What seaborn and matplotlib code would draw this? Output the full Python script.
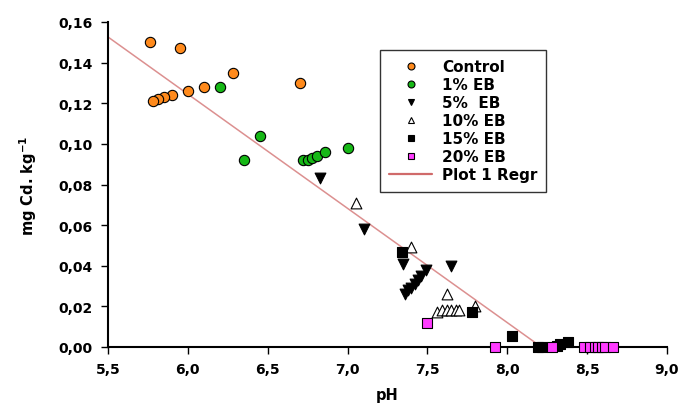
import numpy as np
import pandas as pd
import matplotlib
matplotlib.use("Agg")
import matplotlib.pyplot as plt
from matplotlib.ticker import FuncFormatter
from matplotlib.lines import Line2D
import seaborn as sns

# ---- data ----
control_x = [5.76, 5.95, 6.28, 6.70, 6.10, 6.00, 5.90, 5.85, 5.81, 5.78]
control_y = [0.150, 0.147, 0.135, 0.130, 0.128, 0.126, 0.124, 0.123, 0.122, 0.121]
eb1_x = [6.20, 6.45, 6.35, 6.72, 6.75, 6.78, 6.81, 6.86, 7.00]
eb1_y = [0.128, 0.104, 0.092, 0.092, 0.092, 0.093, 0.094, 0.096, 0.098]
eb5_x = [6.83, 7.10, 7.35, 7.49, 7.65, 7.36, 7.38, 7.40, 7.42, 7.44, 7.46]
eb5_y = [0.083, 0.058, 0.041, 0.038, 0.040, 0.026, 0.028, 0.029, 0.031, 0.033, 0.035]
eb10_x = [7.05, 7.40, 7.62, 7.80, 7.56, 7.59, 7.62, 7.65, 7.68, 7.70]
eb10_y = [0.071, 0.049, 0.026, 0.020, 0.017, 0.018, 0.018, 0.018, 0.018, 0.018]
eb15_x = [7.34, 7.78, 8.03, 8.19, 8.22, 8.31, 8.33, 8.38]
eb15_y = [0.047, 0.017, 0.0055, 0.0, 0.0, 0.0007, 0.0015, 0.0026]
eb20_x = [7.50, 7.92, 8.28, 8.48, 8.52, 8.55, 8.57, 8.59, 8.61, 8.66]
eb20_y = [0.012, 0.0, 0.0, 0.0, 0.0, 0.0, 0.0, 0.0, 0.0, 0.0]
groups = ["Control", "1% EB", "5%  EB", "10% EB", "15% EB", "20% EB"]

# regression line (Plot 1 Regr): y = intercept + slope * pH
regr_intercept = 0.462
regr_slope = -0.05625

x_ticks = [5.5, 6.0, 6.5, 7.0, 7.5, 8.0, 8.5, 9.0]
y_ticks = [0.00, 0.02, 0.04, 0.06, 0.08, 0.10, 0.12, 0.14, 0.16]

# ---- build table ----
xs = [control_x, eb1_x, eb5_x, eb10_x, eb15_x, eb20_x]
ys = [control_y, eb1_y, eb5_y, eb10_y, eb15_y, eb20_y]
df = pd.concat([pd.DataFrame({"pH": x, "Cd": y, "group": g}) for x, y, g in zip(xs, ys, groups)],
               ignore_index=True)

styles = {
    "Control": dict(marker="o", color="#ff8a1c", s=55),
    "1% EB": dict(marker="o", color="#16b816", s=55),
    "5%  EB": dict(marker="v", color="black", s=60),
    "10% EB": dict(marker="^", color="white", s=60),
    "15% EB": dict(marker="s", color="black", s=50),
    "20% EB": dict(marker="s", color="#ff3cff", s=50),
}

sns.set_style("ticks")
plt.rcParams["font.family"] = ["DejaVu Sans"]
plt.rcParams["font.weight"] = "bold"
plt.rcParams["text.color"] = "black"
plt.rcParams["axes.labelcolor"] = "black"
plt.rcParams["xtick.color"] = "black"
plt.rcParams["ytick.color"] = "black"

fig = plt.figure(figsize=(6.79, 4.06), dpi=100)
ax = fig.add_axes([108 / 679, 1 - 348 / 406, 559 / 679, 325 / 406])

# regression line across the axis range (until it reaches 0)
line_x = np.linspace(5.5, 9.0, 400)
line_y = regr_intercept + regr_slope * line_x
mask = line_y >= 0
sns.lineplot(x=line_x[mask], y=line_y[mask], ax=ax, color="#dc9090", lw=1.1, zorder=2)

handles = []
for g in groups:
    st = styles[g]
    sub = df[df["group"] == g]
    sns.scatterplot(data=sub, x="pH", y="Cd", ax=ax, marker=st["marker"], color=st["color"],
                    s=st["s"], edgecolor="black", linewidth=0.8, zorder=3, clip_on=False)
    handles.append(Line2D([], [], ls="none", marker=st["marker"], markerfacecolor=st["color"],
                          markeredgecolor="black", markeredgewidth=0.8, markersize=5, label=g))
handles.append(Line2D([], [], color="#d06a6a", lw=1.6, label="Plot 1 Regr"))

ax.set_xlim(5.5, 9.0)
ax.set_ylim(0, 0.16)
ax.set_xticks(x_ticks)
ax.set_yticks(y_ticks)
ax.xaxis.set_major_formatter(FuncFormatter(lambda v, p: f"{v:.1f}".replace(".", ",")))
ax.yaxis.set_major_formatter(FuncFormatter(lambda v, p: f"{v:.2f}".replace(".", ",")))
ax.tick_params(axis="both", direction="out", length=5, width=1, labelsize=10,
               color="black", labelcolor="black", pad=6)
for lab in ax.get_xticklabels() + ax.get_yticklabels():
    lab.set_fontweight("bold")
for side in ["left", "bottom"]:
    ax.spines[side].set_linewidth(1.5)
    ax.spines[side].set_color("black")
sns.despine(ax=ax)

ax.set_xlabel("pH", fontsize=10.5, fontweight="bold", labelpad=8, color="black")
ax.set_ylabel("mg Cd. kg$^{\\mathbf{-1}}$", fontsize=10.5, fontweight="bold", labelpad=14,
              color="black")

leg = ax.legend(handles=handles, loc="upper left", bbox_to_anchor=(0.4866, 0.914),
                borderaxespad=0, frameon=True, fancybox=False, edgecolor="#333333", framealpha=1,
                prop={"family": "DejaVu Sans", "weight": "bold", "size": 11},
                handlelength=2.8, labelspacing=0.2, borderpad=0.6, handletextpad=0.65)
leg.get_frame().set_linewidth(1.0)
for t in leg.get_texts():
    t.set_color("black")

fig.savefig("out.png", dpi=100)
